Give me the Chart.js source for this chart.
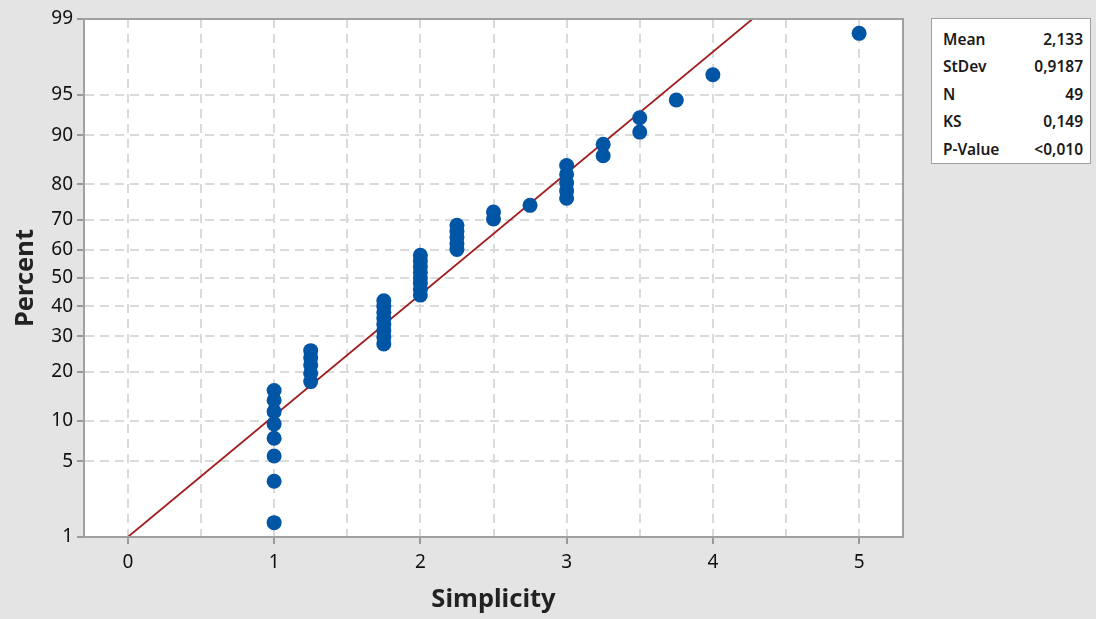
<!DOCTYPE html>
<html>
<head>
<meta charset="utf-8">
<script src="https://cdn.jsdelivr.net/npm/chart.js@4.4.0/dist/chart.umd.min.js"></script>
<style>
  html, body { margin: 0; padding: 0; background: #e4e4e4; }
  #wrap { position: relative; width: 1096px; height: 619px; }
  #stats {
    position: absolute; left: 931px; top: 18px; width: 160px; height: 146px;
    box-sizing: border-box; background: #fff; border: 1px solid #a0a0a0;
    font-family: "Noto Sans", sans-serif; font-weight: 600; font-size: 15.5px; color: #1a1a1a;
    padding: 6px 7px 0 11px;
  }
  #stats table { width: 100%; border-collapse: collapse; }
  #stats td { padding: 0; height: 27.5px; white-space: nowrap; }
  #stats td.v { text-align: right; }
</style>
</head>
<body>
<div id="wrap">
  <canvas id="chartCanvas" width="1096" height="619"></canvas>
  <div id="stats"><table id="statsTable"></table></div>
</div>
<script>
// Simplicity scores (sorted), one per observation
const simplicity = [
  1, 1, 1, 1, 1, 1, 1, 1,
  1.25, 1.25, 1.25, 1.25, 1.25,
  1.75, 1.75, 1.75, 1.75, 1.75, 1.75, 1.75, 1.75,
  2, 2, 2, 2, 2, 2, 2, 2,
  2.25, 2.25, 2.25, 2.25, 2.25,
  2.5, 2.5,
  2.75,
  3, 3, 3, 3, 3,
  3.25, 3.25,
  3.5, 3.5,
  3.75,
  4,
  5
];
// plotted percent of each point
const percent = [
  1.4, 3.4, 5.5, 7.5, 9.5, 11.5, 13.6, 15.6,
  17.6, 19.6, 21.7, 23.7, 25.7,
  27.7, 29.8, 31.8, 33.8, 35.8, 37.9, 39.9, 41.9,
  43.9, 46.0, 48.0, 50.0, 52.0, 54.0, 56.1, 58.1,
  60.1, 62.1, 64.2, 66.2, 68.2,
  70.2, 72.3,
  74.3,
  76.3, 78.3, 80.4, 82.4, 84.4,
  86.4, 88.5,
  90.5, 92.5,
  94.5,
  96.6,
  98.6
];
// fitted normal line (ends)
const fitX = [0, 4.5];
const fitPercent = [1.0, 99.5];

// axis ticks
const percentTicks = [1, 5, 10, 20, 30, 40, 50, 60, 70, 80, 90, 95, 99];
const xTicks = [0, 0.5, 1, 1.5, 2, 2.5, 3, 3.5, 4, 4.5, 5];

// stats box
const statLabels = ['Mean', 'StDev', 'N', 'KS', 'P-Value'];
const statValues = ['2,133', '0,9187', '49', '0,149', '<0,010'];

// inverse normal CDF (Acklam) - used to map percent onto the probability axis
function probit(p) {
  const a = [-3.969683028665376e+01, 2.209460984245205e+02, -2.759285104469687e+02, 1.383577518672690e+02, -3.066479806614716e+01, 2.506628277459239e+00];
  const b = [-5.447609879822406e+01, 1.615858368580409e+02, -1.556989798598866e+02, 6.680131188771930e+01, -1.328068155288572e+01];
  const c = [-7.784894002430293e-03, -3.223964580411365e-01, -2.400758277161838e+00, -2.549732539343734e+00, 4.374664141464968e+00, 2.938163982698783e+00];
  const d = [7.784695709041462e-03, 3.224671290700398e-01, 2.445134137142996e+00, 3.754408661907416e+00];
  const pl = 0.02425;
  let q, r;
  if (p < pl) {
    q = Math.sqrt(-2 * Math.log(p));
    return (((((c[0]*q+c[1])*q+c[2])*q+c[3])*q+c[4])*q+c[5]) / ((((d[0]*q+d[1])*q+d[2])*q+d[3])*q+1);
  }
  if (p <= 1 - pl) {
    q = p - 0.5; r = q * q;
    return (((((a[0]*r+a[1])*r+a[2])*r+a[3])*r+a[4])*r+a[5])*q / (((((b[0]*r+b[1])*r+b[2])*r+b[3])*r+b[4])*r+1);
  }
  q = Math.sqrt(-2 * Math.log(1 - p));
  return -(((((c[0]*q+c[1])*q+c[2])*q+c[3])*q+c[4])*q+c[5]) / ((((d[0]*q+d[1])*q+d[2])*q+d[3])*q+1);
}
const zOf = pct => probit(pct / 100);

// white plot area + grey frame
const plotFrame = {
  id: 'plotFrame',
  beforeDraw(chart) {
    const { ctx, chartArea: a } = chart;
    ctx.save();
    ctx.fillStyle = '#ffffff';
    ctx.fillRect(a.left, a.top, a.right - a.left, a.bottom - a.top);
    ctx.restore();
  },
  afterDraw(chart) {
    const { ctx, chartArea: a } = chart;
    ctx.save();
    ctx.strokeStyle = '#a0a0a0';
    ctx.lineWidth = 2;
    ctx.strokeRect(a.left, a.top, a.right - a.left, a.bottom - a.top);
    ctx.restore();
  }
};

const tickFont = { family: 'Noto Sans', size: 19 };
const titleFont = { family: 'Noto Sans', size: 25.5, weight: 'bold' };
const gridOpts = {
  color: '#dadada',
  lineWidth: 2,
  tickLength: 7,
  tickWidth: 2
};

const ctx = document.getElementById('chartCanvas').getContext('2d');
new Chart(ctx, {
  type: 'scatter',
  data: {
    datasets: [
      {
        label: 'Simplicity',
        data: simplicity.map((x, i) => ({ x: x, y: zOf(percent[i]) })),
        backgroundColor: '#0055a5',
        borderColor: '#0055a5',
        borderWidth: 0,
        pointRadius: 7.5
      },
      {
        label: 'Fit',
        data: fitX.map((x, i) => ({ x: x, y: zOf(fitPercent[i]) })),
        showLine: true,
        borderColor: '#a11d1d',
        borderWidth: 1.8,
        pointRadius: 0,
        fill: false
      }
    ]
  },
  options: {
    responsive: false,
    animation: false,
    layout: { padding: { top: 19, right: 193, left: 0, bottom: 0 } },
    plugins: {
      legend: { display: false },
      tooltip: { enabled: false }
    },
    scales: {
      x: {
        type: 'linear',
        min: -0.3,
        max: 5.3,
        afterBuildTicks: s => { s.ticks = xTicks.map(v => ({ value: v })); },
        afterFit: s => { s.height = 82; },
        ticks: {
          autoSkip: false,
          maxRotation: 0,
          padding: 7,
          font: tickFont,
          color: '#111',
          callback: v => Number.isInteger(v) ? String(v) : ''
        },
        grid: {
          ...gridOpts,
          tickColor: c => Number.isInteger(c.tick && c.tick.value) ? '#9a9a9a' : 'rgba(0,0,0,0)'
        },
        border: { dash: [9, 6], color: '#a0a0a0', width: 2 },
        title: { display: true, text: 'Simplicity', font: titleFont, color: '#222', padding: { top: 0, bottom: 4 } }
      },
      y: {
        type: 'linear',
        min: zOf(1),
        max: zOf(99),
        afterBuildTicks: s => { s.ticks = percentTicks.map(p => ({ value: zOf(p) })); },
        afterFit: s => { s.width = 84; },
        ticks: {
          autoSkip: false,
          padding: 4,
          font: tickFont,
          color: '#111',
          callback: (v, i) => String(percentTicks[i])
        },
        grid: { ...gridOpts, tickColor: '#9a9a9a' },
        border: { dash: [9, 6], color: '#a0a0a0', width: 2 },
        title: { display: true, text: 'Percent', font: titleFont, color: '#222', padding: { top: 10, bottom: 0 } }
      }
    }
  },
  plugins: [plotFrame]
});

// stats table at the right
const table = document.getElementById('statsTable');
statLabels.forEach((label, i) => {
  const tr = document.createElement('tr');
  tr.innerHTML = `<td>${label}</td><td class="v">${statValues[i]}</td>`;
  table.appendChild(tr);
});
</script>
</body>
</html>
